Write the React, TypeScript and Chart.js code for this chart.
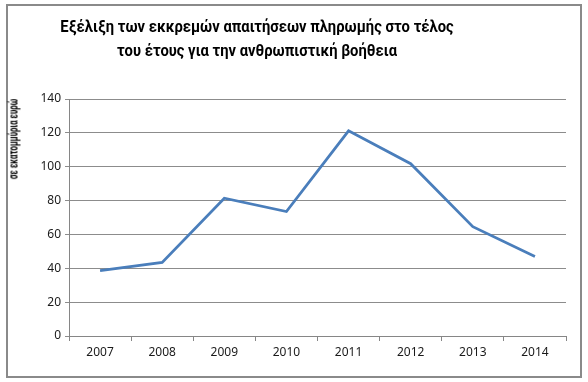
import React, { useEffect, useRef } from "react";
import { Chart, registerables } from "chart.js";

Chart.register(...registerables);

const years = ["2007", "2008", "2009", "2010", "2011", "2012", "2013", "2014"];
const arrears = [38.6, 43.5, 81.4, 73.5, 121.2, 101.8, 64.6, 47.0];
const titleLines = [
  "Εξέλιξη των εκκρεμών απαιτήσεων πληρωμής στο τέλος",
  "του έτους για την ανθρωπιστική βοήθεια",
];
const yAxisTitle = "σε εκατομμύρια ευρώ";

const FONT = "'Noto Sans', sans-serif";
const TITLE_FONT = "Roboto, 'Noto Sans', sans-serif";

export default function App() {
  const ref = useRef<HTMLCanvasElement | null>(null);

  useEffect(() => {
    document.body.style.margin = "0";
    const canvas = ref.current;
    if (!canvas) return;
    const chart = new Chart(canvas, {
      type: "line",
      data: {
        labels: years,
        datasets: [
          {
            data: arrears,
            borderColor: "#4A7EBB",
            borderWidth: 2.75,
            pointRadius: 0,
            tension: 0,
            fill: false,
          },
        ],
      },
      options: {
        responsive: false,
        animation: false,
        layout: { padding: { left: 0, right: 14, top: 93, bottom: 0 } },
        plugins: {
          legend: { display: false },
          tooltip: { enabled: false },
          title: { display: false },
        },
        scales: {
          x: {
            offset: true,
            grid: {
              offset: true,
              display: true,
              drawOnChartArea: false,
              drawTicks: true,
              tickLength: 5,
              color: "#868686",
            },
            border: { display: true, color: "#868686", width: 1 },
            ticks: {
              color: "#1a1a1a",
              font: { family: FONT, size: 12 },
              padding: 4,
            },
            afterFit: (scale: any) => {
              scale.height = 40;
            },
          },
          y: {
            min: 0,
            max: 140,
            ticks: {
              stepSize: 20,
              color: "#1a1a1a",
              font: { family: FONT, size: 12 },
              padding: 4,
            },
            grid: {
              color: "#8c8c8c",
              tickLength: 4,
              lineWidth: 1,
            },
            border: { display: true, color: "#868686", width: 1 },
            afterFit: (scale: any) => {
              scale.width = 61;
            },
          },
        },
      },
    });
    return () => chart.destroy();
  }, []);

  const titleStyle = (top: number): React.CSSProperties => ({
    position: "absolute",
    left: 257,
    top,
    whiteSpace: "nowrap",
    fontFamily: TITLE_FONT,
    fontWeight: "bold",
    fontSize: 17,
    lineHeight: "24px",
    color: "#000",
    transform: "translateX(-50%) scaleX(0.87)",
  });

  return (
    <div style={{ position: "relative", width: 588, height: 382, background: "#fff" }}>
      <div
        style={{
          position: "absolute",
          left: 6,
          top: 4,
          width: 576,
          height: 374,
          boxSizing: "border-box",
          border: "2px solid #8a8a8a",
          background: "#fff",
        }}
      >
        <canvas ref={ref} width={572} height={370} style={{ display: "block" }} />
      </div>
      <div style={titleStyle(14)}>{titleLines[0]}</div>
      <div style={titleStyle(38)}>{titleLines[1]}</div>
      <div
        style={{
          position: "absolute",
          left: 14,
          top: 139,
          whiteSpace: "nowrap",
          fontFamily: TITLE_FONT,
          fontWeight: "bold",
          fontSize: 12,
          lineHeight: "13px",
          color: "#000",
          transform: "translate(-50%, -50%) rotate(-90deg) scaleX(0.66)",
        }}
      >
        {yAxisTitle}
      </div>
    </div>
  );
}
